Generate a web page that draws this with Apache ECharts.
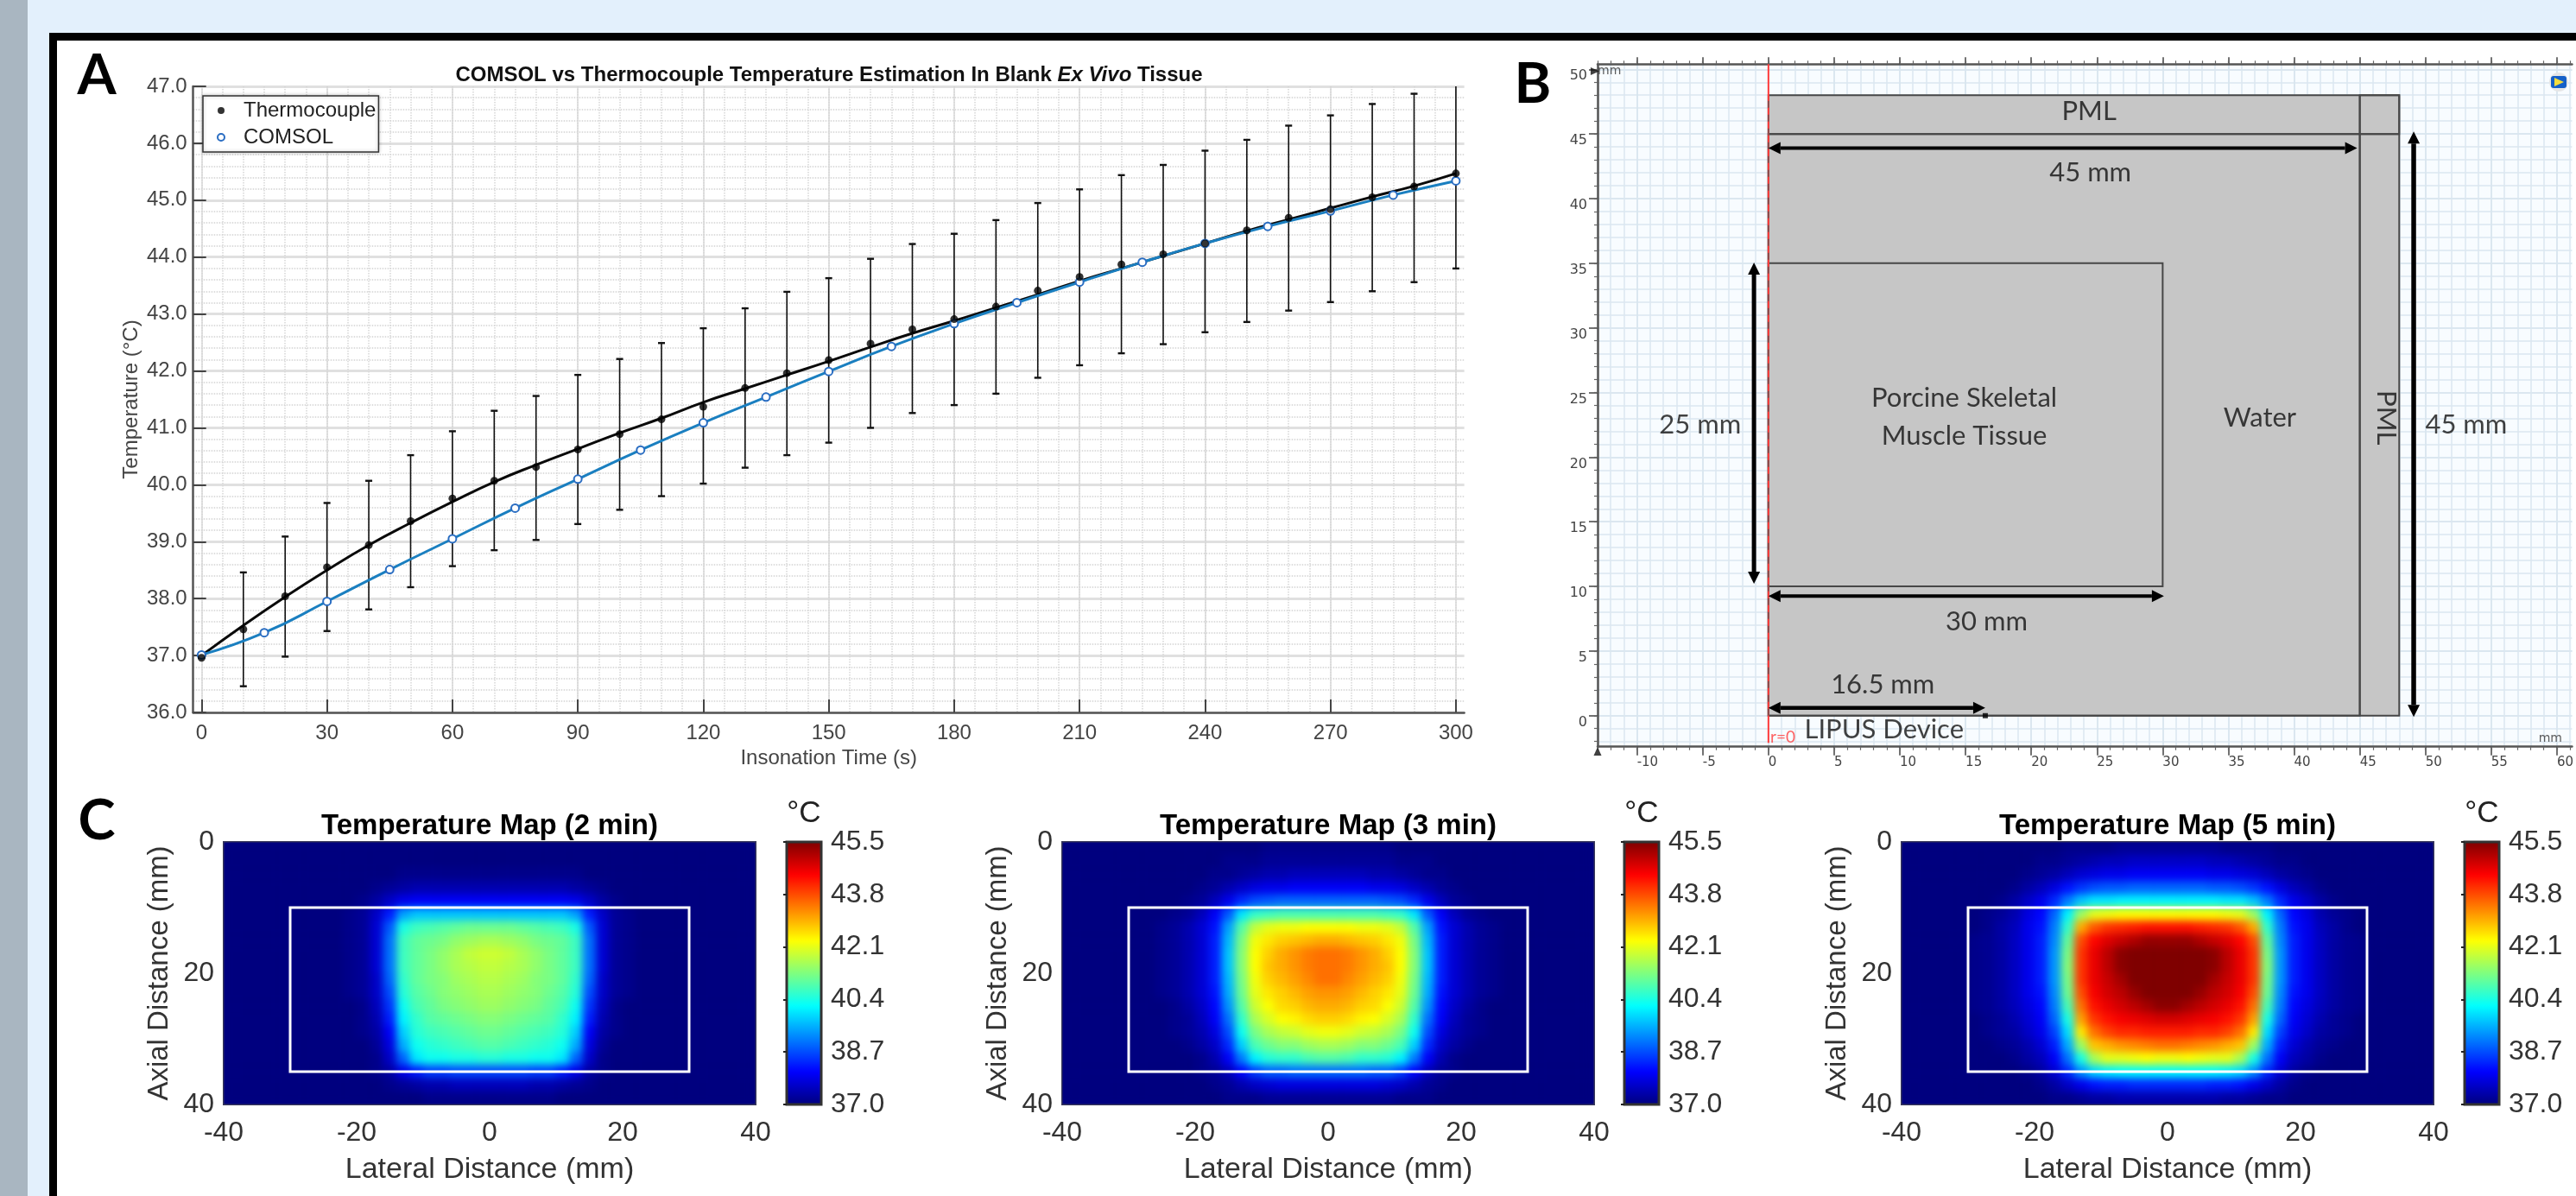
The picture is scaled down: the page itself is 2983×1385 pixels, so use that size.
<!DOCTYPE html>
<html>
<head>
<meta charset="utf-8">
<title>COMSOL vs Thermocouple</title>
<script src="https://cdn.jsdelivr.net/npm/echarts@6/dist/echarts.min.js"></script>
<style>
html,body{margin:0;padding:0;width:2983px;height:1385px;overflow:hidden;background:#e3f0fc;}
#band{position:absolute;left:0;top:0;width:32px;height:1385px;background:#a9b6c1;}
#frame{position:absolute;left:57px;top:38px;width:2926px;height:1347px;background:#000;}
#paper{position:absolute;left:66px;top:47px;width:2917px;height:1338px;background:#fff;}
#chart{position:absolute;left:0;top:0;width:2983px;height:1385px;}
canvas[data-zr-dom-id="zr_1"]{
  filter:blur(5px);
  clip-path:path('M259 975H875V1279H259Z M1230 975H1846V1279H1230Z M2202 975H2818V1279H2202Z');
}
</style>
</head>
<body>
<div id="band"></div><div id="frame"></div><div id="paper"></div>
<div id="chart"></div>
<script>
/* ---------- Panel A ---------- */
const thermoTime = [0,10,20,30,40,50,60,70,80,90,100,110,120,130,140,150,160,170,180,190,200,210,220,230,240,250,260,270,280,290,300];
const thermoMean = [36.96,37.46,38.04,38.55,38.94,39.36,39.76,40.07,40.31,40.62,40.89,41.15,41.37,41.70,41.96,42.19,42.48,42.73,42.91,43.13,43.41,43.65,43.87,44.05,44.24,44.47,44.69,44.84,45.05,45.24,45.47];
const thermoUpper = [36.96,38.46,39.09,39.68,40.07,40.52,40.94,41.30,41.56,41.93,42.21,42.49,42.75,43.10,43.39,43.63,43.97,44.23,44.41,44.65,44.95,45.19,45.44,45.62,45.87,46.06,46.31,46.49,46.69,46.87,47.14];
const thermoLower = [36.96,36.46,36.98,37.43,37.81,38.20,38.57,38.85,39.03,39.31,39.56,39.80,40.02,40.30,40.52,40.74,41.00,41.26,41.40,41.60,41.88,42.10,42.31,42.47,42.68,42.86,43.06,43.21,43.40,43.56,43.80];
const thermoFit = [37.0,37.53,38.03,38.50,38.94,39.33,39.70,40.05,40.35,40.63,40.91,41.17,41.45,41.69,41.93,42.17,42.42,42.66,42.88,43.11,43.34,43.58,43.80,44.02,44.24,44.46,44.66,44.86,45.06,45.25,45.47];
const comsolTime = [0,15,30,45,60,75,90,105,120,135,150,165,180,195,210,225,240,255,270,285,300];
const comsolTemp = [37.01,37.40,37.95,38.51,39.05,39.59,40.10,40.61,41.09,41.54,41.99,42.43,42.83,43.20,43.56,43.91,44.24,44.54,44.81,45.09,45.34];
const timeTicks = [0,30,60,90,120,150,180,210,240,270,300];

/* ---------- Panel B (mm) ---------- */
const bxTicks = [-10,-5,0,5,10,15,20,25,30,35,40,45,50,55,60];
const byTicks = [0,5,10,15,20,25,30,35,40,45,50];
const domainRects = [[0,0,48,48],[0,0,45,45],[0,10,30,35],[45,45,48,48]];
const domainLines = [[45,0,45,48],[0,45,48,45]];
const arrows = [[0,43.9,44.8,43.9,4],[-1.1,35.05,-1.1,10.2,5],[0,9.25,30.1,9.25,4],[0,0.6,16.5,0.6,4.5],[49.1,45.2,49.1,-0.1,5.5]];
const axisOfSymmetry = [[0,-2.1],[0,50.4]];
const axisDashes = [[0,0],[0,48]];
const deviceEnd = [[16.5,0]];
const annText = ['PML','45 mm','Porcine Skeletal','Muscle Tissue','Water','PML','45 mm','25 mm','30 mm','16.5 mm','LIPUS Device'];
const annX = [24.4,24.5,14.9,14.9,37.4,47.0,53.1,-5.2,16.6,8.7,8.8];
const annY = [46.75,42.0,24.55,21.65,23.05,23.05,22.5,22.5,7.27,2.4,-1.1];

/* ---------- Panel C: half-width rows, |lateral| = 1,3,5,... mm; rows axial = 1,3,...,39 mm; omitted cells are the 37.0 baseline ---------- */
const axialCentres = [1,3,5,7,9,11,13,15,17,19,21,23,25,27,29,31,33,35,37,39];
const map2min = [
[37.0],
[37.0],
[37.1,37.1,37.1,37.1,37.1,37.1,37.1],
[37.4,37.4,37.4,37.4,37.4,37.4,37.3,37.2,37.1],
[38.0,38.0,38.0,38.0,38.0,38.0,37.9,37.6,37.3,37.1],
[39.7,39.7,39.7,39.7,39.7,39.7,39.4,38.3,37.6,37.2,37.1],
[41.1,41.1,41.0,40.9,40.8,40.7,40.4,38.8,37.7,37.2,37.1],
[41.6,41.5,41.4,41.2,41.1,41.0,40.7,39.0,37.7,37.2,37.1],
[41.9,41.8,41.6,41.4,41.2,41.0,40.7,39.0,37.7,37.2,37.1],
[41.8,41.7,41.6,41.4,41.2,41.0,40.7,39.0,37.7,37.2,37.1],
[41.7,41.6,41.5,41.3,41.2,41.0,40.6,38.9,37.6,37.2,37.1],
[41.6,41.5,41.4,41.3,41.1,40.9,40.5,38.7,37.6,37.2,37.1],
[41.5,41.4,41.3,41.2,41.0,40.8,40.3,38.5,37.5,37.1],
[41.3,41.2,41.1,41.0,40.9,40.6,40.1,38.3,37.4,37.1],
[41.1,41.0,40.9,40.8,40.7,40.5,39.8,38.0,37.3,37.1],
[40.9,40.8,40.7,40.6,40.5,40.3,39.5,37.8,37.2],
[40.5,40.4,40.4,40.3,40.3,40.0,38.9,37.6,37.1],
[38.7,38.7,38.7,38.6,38.6,38.3,37.9,37.3,37.1],
[37.5,37.5,37.5,37.4,37.4,37.3,37.2,37.1],
[37.1,37.1,37.1,37.1,37.1]
];
const map3min = [
[37.1,37.1,37.1,37.1,37.1],
[37.2,37.2,37.2,37.2,37.2,37.1,37.1,37.1],
[37.5,37.5,37.5,37.4,37.4,37.3,37.2,37.1,37.1],
[38.0,38.0,38.0,37.9,37.9,37.8,37.6,37.4,37.2,37.1],
[38.9,38.9,38.9,38.9,38.8,38.7,38.4,37.9,37.5,37.2,37.1],
[40.8,40.8,40.8,40.8,40.7,40.6,40.0,38.8,38.0,37.5,37.2,37.1],
[42.3,42.3,42.2,42.2,42.1,41.8,40.9,39.4,38.2,37.7,37.4,37.2,37.1],
[43.0,42.9,42.8,42.7,42.5,42.2,41.2,39.6,38.3,37.7,37.4,37.2,37.1],
[43.5,43.4,43.2,43.0,42.7,42.3,41.3,39.7,38.3,37.7,37.4,37.2,37.1],
[43.5,43.4,43.2,43.0,42.8,42.3,41.3,39.7,38.3,37.7,37.4,37.2,37.1],
[43.5,43.3,43.1,42.9,42.7,42.2,41.2,39.6,38.3,37.7,37.4,37.2,37.1],
[43.2,43.1,42.9,42.7,42.5,42.1,41.1,39.5,38.2,37.7,37.4,37.2,37.1],
[43.0,42.9,42.7,42.6,42.3,41.9,40.9,39.3,38.1,37.6,37.3,37.1],
[42.7,42.6,42.4,42.3,42.0,41.6,40.6,39.0,38.0,37.5,37.2,37.1],
[42.2,42.1,41.9,41.8,41.6,41.2,40.3,38.7,37.8,37.4,37.2,37.1],
[41.6,41.5,41.3,41.3,41.1,40.8,39.8,38.4,37.6,37.3,37.1],
[40.9,40.8,40.6,40.6,40.5,40.1,39.1,38.0,37.4,37.1],
[39.0,39.0,39.0,38.9,38.9,38.6,38.1,37.5,37.2,37.1],
[37.8,37.8,37.8,37.8,37.7,37.6,37.4,37.2,37.1],
[37.2,37.2,37.2,37.2,37.2,37.1,37.1,37.1]
];
const map5min = [
[37.2,37.2,37.2,37.2,37.1,37.1,37.1,37.1],
[37.6,37.6,37.6,37.5,37.5,37.4,37.3,37.2,37.1,37.1],
[38.0,38.0,38.0,37.9,37.9,37.8,37.7,37.5,37.3,37.2,37.1],
[38.9,38.9,38.9,38.8,38.8,38.7,38.5,38.2,37.8,37.5,37.3,37.1],
[40.1,40.1,40.1,40.1,40.0,40.0,39.7,39.1,38.4,37.9,37.6,37.3,37.1],
[42.3,42.3,42.3,42.3,42.2,42.1,41.5,40.1,38.9,38.1,37.8,37.4,37.2,37.1],
[44.3,44.3,44.2,44.1,44.0,43.7,43.0,40.6,39.1,38.2,37.9,37.5,37.3,37.1],
[45.3,45.3,45.1,44.9,44.7,44.4,43.8,41.0,39.2,38.3,37.9,37.55,37.3,37.15,37.1],
[45.5,45.5,45.5,45.4,45.0,44.6,44.0,41.2,39.3,38.3,37.9,37.55,37.3,37.15,37.1],
[45.5,45.5,45.5,45.4,45.0,44.6,44.0,41.3,39.3,38.3,37.9,37.55,37.3,37.15,37.1],
[45.5,45.5,45.5,45.2,44.9,44.6,44.0,41.2,39.3,38.3,37.9,37.55,37.3,37.15,37.1],
[45.5,45.5,45.3,45.0,44.8,44.5,43.8,41.1,39.2,38.2,37.9,37.55,37.3,37.15,37.1],
[45.4,45.2,45.0,44.8,44.6,44.3,43.5,40.8,39.1,38.1,37.8,37.5,37.3,37.15,37.1],
[44.8,44.7,44.6,44.5,44.3,44.0,43.1,40.4,38.9,38.0,37.7,37.4,37.2,37.1],
[44.2,44.2,44.1,44.1,43.9,43.5,42.5,39.9,38.6,37.9,37.6,37.3,37.2,37.1],
[43.5,43.4,43.3,43.2,43.0,42.8,41.5,39.5,38.3,37.7,37.4,37.2,37.1],
[42.2,42.3,42.2,42.1,42.1,41.6,40.4,39.0,38.0,37.5,37.3,37.1],
[40.2,40.2,40.2,40.2,40.1,39.9,39.3,38.4,37.7,37.3,37.1],
[38.4,38.4,38.4,38.3,38.3,38.2,37.9,37.6,37.3,37.1],
[37.4,37.4,37.4,37.4,37.3,37.3,37.2,37.1,37.1]
];
const mapTitles = ['Temperature Map (2 min)','Temperature Map (3 min)','Temperature Map (5 min)'];
const colourbarTicks = [37.0,38.7,40.4,42.1,43.8,45.5];
const lateralTicks = [-40,-20,0,20,40];
const tissueOutline = [[-30,10,30,35]];
const jet = ['#00007f','#0000ff','#007fff','#00ffff','#7fff7f','#ffff00','#ff7f00','#ff0000','#7f0000'];

const SANS = '"Liberation Sans", Arial, sans-serif';
const LATO = 'Lato, "Open Sans", sans-serif';
const DJV = '"DejaVu Sans", sans-serif';

const xAxes = [], yAxes = [], grids = [], series = [], titles = [], visualMaps = [];
const addX = o => xAxes.push(o) - 1, addY = o => yAxes.push(o) - 1, addG = o => grids.push(o) - 1;

/* ===== Panel A axes ===== */
const gA = addG({left:223.7, top:100, width:1471.9, height:725, show:false});
const every5 = []; for (let t = 0; t <= 300; t += 5) every5.push(t);
const xA = addX({gridIndex:gA, type:'value', min:-2, max:302, position:'bottom',
  axisLine:{onZero:false, lineStyle:{color:'#555', width:2.5}},
  axisTick:{show:true, inside:true, length:15, customValues:timeTicks, lineStyle:{color:'#444', width:2}},
  axisLabel:{customValues:timeTicks, color:'#444', fontFamily:SANS, fontSize:24, margin:12},
  splitLine:{show:true, lineStyle:{color:'#dadada', width:1.5}},
  name:'Insonation Time (s)', nameLocation:'middle', nameGap:41,
  nameTextStyle:{color:'#444', fontFamily:SANS, fontSize:24}});
addX({gridIndex:gA, type:'value', min:-2, max:302, position:'bottom',
  axisLine:{show:false, onZero:false}, axisTick:{show:false, customValues:every5}, axisLabel:{show:false},
  splitLine:{show:true, lineStyle:{color:'#d6d6d6', width:1.5, type:'dotted'}}});
const yA = addY({gridIndex:gA, type:'value', min:36, max:47, interval:1,
  axisLine:{show:true, onZero:false, lineStyle:{color:'#555', width:2.5}},
  axisTick:{show:true, inside:true, length:15, lineStyle:{color:'#444', width:2}},
  axisLabel:{color:'#444', fontFamily:SANS, fontSize:24, margin:7, formatter:v=>v.toFixed(1)},
  splitLine:{show:true, lineStyle:{color:'#e0e0e0', width:3}},
  minorTick:{show:false, splitNumber:5},
  minorSplitLine:{show:true, lineStyle:{color:'#d2d2d2', width:1.5, type:'dotted'}},
  name:'Temperature (°C)', nameLocation:'middle', nameGap:59,
  nameTextStyle:{color:'#444', fontFamily:SANS, fontSize:24}});

series.push({type:'custom', name:'Thermocouple SD', xAxisIndex:xA, yAxisIndex:yA, clip:true, silent:true, z:3,
  data:thermoTime.map((t,i)=>[t,thermoLower[i],thermoUpper[i]]),
  encode:{x:0,y:[1,2]},
  renderItem(p,api){
    const lo=api.coord([api.value(0),api.value(1)]), hi=api.coord([api.value(0),api.value(2)]);
    const s={stroke:'#111',lineWidth:1.6}, c={stroke:'#111',lineWidth:2.4};
    return {type:'group',children:[
      {type:'line',shape:{x1:lo[0],y1:lo[1],x2:hi[0],y2:hi[1]},style:s},
      {type:'line',shape:{x1:lo[0]-4,y1:lo[1],x2:lo[0]+4,y2:lo[1]},style:c},
      {type:'line',shape:{x1:hi[0]-4,y1:hi[1],x2:hi[0]+4,y2:hi[1]},style:c}
    ]};
  }});
series.push({type:'line', name:'Thermocouple fit', xAxisIndex:xA, yAxisIndex:yA, smooth:true, symbol:'none', z:4,
  lineStyle:{color:'#0a0a0a', width:3}, data:thermoTime.map((t,i)=>[t,thermoFit[i]])});
series.push({type:'line', name:'COMSOL', xAxisIndex:xA, yAxisIndex:yA, smooth:true, z:5,
  symbol:'emptyCircle', symbolSize:9, showAllSymbol:true,
  lineStyle:{color:'#1a7fc0', width:3}, itemStyle:{color:'#2a6dc2', borderColor:'#2a6dc2', borderWidth:2},
  data:comsolTime.map((t,i)=>[t,comsolTemp[i]])});
series.push({type:'scatter', name:'Thermocouple', xAxisIndex:xA, yAxisIndex:yA, z:6, symbolSize:9,
  itemStyle:{color:'#000'}, data:thermoTime.map((t,i)=>[t,thermoMean[i]])});

/* ===== Panel B axes ===== */
const BX0=-13, BX1=61.15, BY0=-2.4, BY1=50.4;
const gB = addG({left:1850, top:74.3, width:1133, height:790.4, show:true, backgroundColor:'#f8fcff', borderWidth:0});
const mmX=[]; for(let v=-13;v<=61;v++) mmX.push(v);
const mmY=[]; for(let v=-2;v<=50;v++) mmY.push(v);
const bAxisLine={onZero:false, lineStyle:{color:'#555',width:2.5}};
const xB = addX({gridIndex:gB,type:'value',min:BX0,max:BX1,position:'bottom',axisLine:bAxisLine,
  axisTick:{show:true,length:10,customValues:bxTicks,lineStyle:{color:'#444',width:1.5}},
  axisLabel:{customValues:bxTicks,align:'left',color:'#444',fontFamily:DJV,fontSize:15,margin:11},
  splitLine:{show:true,lineStyle:{color:'#cfdfe9',width:1.5}}});
addX({gridIndex:gB,type:'value',min:BX0,max:BX1,position:'bottom',axisLine:{show:false,onZero:false},
  axisTick:{show:true,length:4,customValues:mmX,lineStyle:{color:'#666',width:1.2}},axisLabel:{show:false},
  splitLine:{show:true,lineStyle:{color:'#dbe7f0',width:1.5}}});
addX({gridIndex:gB,type:'value',min:BX0,max:BX1,position:'top',axisLine:bAxisLine,
  axisTick:{show:true,length:8,customValues:bxTicks,lineStyle:{color:'#444',width:1.5}},axisLabel:{show:false},splitLine:{show:false}});
addX({gridIndex:gB,type:'value',min:BX0,max:BX1,position:'top',axisLine:{show:false,onZero:false},
  axisTick:{show:true,length:4,customValues:mmX,lineStyle:{color:'#666',width:1.2}},axisLabel:{show:false},splitLine:{show:false}});
const yB = addY({gridIndex:gB,type:'value',min:BY0,max:BY1,position:'left',axisLine:bAxisLine,
  axisTick:{show:true,length:10,customValues:byTicks,lineStyle:{color:'#444',width:1.5}},
  axisLabel:{customValues:byTicks,verticalAlign:'top',color:'#444',fontFamily:DJV,fontSize:16,margin:12},
  splitLine:{show:true,lineStyle:{color:'#cfdfe9',width:1.5}}});
addY({gridIndex:gB,type:'value',min:BY0,max:BY1,position:'left',axisLine:{show:false,onZero:false},
  axisTick:{show:true,length:4,customValues:mmY,lineStyle:{color:'#666',width:1.2}},axisLabel:{show:false},
  splitLine:{show:true,lineStyle:{color:'#dbe7f0',width:1.5}}});

series.push({type:'custom',name:'Domain',xAxisIndex:xB,yAxisIndex:yB,silent:true,z:3,
  data:domainRects,encode:{x:[0,2],y:[1,3]},
  renderItem(p,api){
    const a=api.coord([api.value(0),api.value(1)]), b=api.coord([api.value(2),api.value(3)]);
    return {type:'rect',shape:{x:a[0],y:b[1],width:b[0]-a[0],height:a[1]-b[1]},
      style:{fill:p.dataIndex===0?'#c6c6c6':'none',stroke:'#474747',lineWidth:2}};
  }});
series.push({type:'custom',name:'Domain lines',xAxisIndex:xB,yAxisIndex:yB,silent:true,z:3,
  data:domainLines,encode:{x:[0,2],y:[1,3]},
  renderItem(p,api){
    const a=api.coord([api.value(0),api.value(1)]), b=api.coord([api.value(2),api.value(3)]);
    return {type:'line',shape:{x1:a[0],y1:a[1],x2:b[0],y2:b[1]},style:{stroke:'#474747',lineWidth:2}};
  }});
series.push({type:'line',name:'r=0',xAxisIndex:xB,yAxisIndex:yB,symbol:'none',silent:true,z:4,
  lineStyle:{color:'#ff3b3b',width:2},data:axisOfSymmetry});
series.push({type:'line',name:'r=0 boundary',xAxisIndex:xB,yAxisIndex:yB,symbol:'none',silent:true,z:4,
  lineStyle:{color:'#555',width:1.2,type:[8,8]},data:axisDashes});
series.push({type:'custom',name:'Dimensions',xAxisIndex:xB,yAxisIndex:yB,silent:true,z:5,
  data:arrows,encode:{x:[0,2],y:[1,3]},
  renderItem(p,api){
    const a=api.coord([api.value(0),api.value(1)]), b=api.coord([api.value(2),api.value(3)]);
    const w=api.value(4), L=14, H=7;
    const dx=b[0]-a[0], dy=b[1]-a[1], n=Math.hypot(dx,dy), ux=dx/n, uy=dy/n, px=-uy, py=ux;
    const head=(t,s)=>({type:'polygon',shape:{points:[t,[t[0]+s*L*ux+H*px,t[1]+s*L*uy+H*py],[t[0]+s*L*ux-H*px,t[1]+s*L*uy-H*py]]},style:{fill:'#000'}});
    return {type:'group',children:[
      {type:'line',shape:{x1:a[0]+ux*L,y1:a[1]+uy*L,x2:b[0]-ux*L,y2:b[1]-uy*L},style:{stroke:'#000',lineWidth:w}},
      head(a,1),head(b,-1)
    ]};
  }});
series.push({type:'scatter',name:'Device edge',xAxisIndex:xB,yAxisIndex:yB,symbol:'rect',symbolSize:6,silent:true,z:6,
  itemStyle:{color:'#000'},data:deviceEnd});
series.push({type:'scatter',name:'Annotations',xAxisIndex:xB,yAxisIndex:yB,symbolSize:0,silent:true,z:7,
  data:annText.map((t,i)=>({name:t,value:[annX[i],annY[i]],label:{rotate:(t==='PML'&&annX[i]>40)?-90:0}})),
  label:{show:true,position:'inside',formatter:'{b}',color:'#111',fontFamily:LATO,fontSize:31}});
series.push({type:'scatter',name:'r label',xAxisIndex:xB,yAxisIndex:yB,symbolSize:0,silent:true,z:7,
  data:[{name:'r=0',value:[1.1,-1.7]}],
  label:{show:true,position:'inside',formatter:'{b}',color:'#ff3b3b',fontFamily:LATO,fontSize:19}});
series.push({type:'scatter',name:'Unit labels',xAxisIndex:xB,yAxisIndex:yB,symbolSize:0,silent:true,z:7,
  data:[{name:'mm',value:[-12.1,49.85]},{name:'mm',value:[59.5,-1.75]}],
  label:{show:true,position:'inside',formatter:'{b}',color:'#333',fontFamily:DJV,fontSize:14}});
series.push({type:'scatter',name:'Axis arrows',xAxisIndex:xB,yAxisIndex:yB,symbol:'triangle',symbolSize:[9,10],silent:true,z:7,clip:false,
  itemStyle:{color:'#111'},data:[{value:[-13.2,49.85],symbolRotate:-90},{value:[-13,-2.75],symbolRotate:0}]});

/* ===== Panel C ===== */
const mapSets=[map2min,map3min,map5min];
const plotLeft=[259,1230,2202];
const barLeft=[911,1881,2854];
mapSets.forEach((rows,m)=>{
  const L=plotLeft[m], cx=L+308;
  const g=addG({left:L,top:975,width:616,height:304,show:true,backgroundColor:'#00007f',borderColor:'#38385a',borderWidth:2});
  const lateralCats=[]; for(let i=0;i<40;i++) lateralCats.push(2*i-39);
  const xc=addX({gridIndex:g,type:'category',data:lateralCats,show:false,boundaryGap:true});
  const yc=addY({gridIndex:g,type:'category',data:axialCentres,inverse:true,show:false,boundaryGap:true});
  const xv=addX({gridIndex:g,type:'value',min:-40,max:40,interval:20,position:'bottom',
    axisLine:{show:false},axisTick:{show:false},splitLine:{show:false},
    axisLabel:{customValues:lateralTicks,color:'#333',fontFamily:SANS,fontSize:32,margin:17},
    name:'Lateral Distance (mm)',nameLocation:'middle',nameGap:59,
    nameTextStyle:{color:'#333',fontFamily:SANS,fontSize:34}});
  const yv=addY({gridIndex:g,type:'value',min:0,max:40,interval:20,inverse:true,position:'left',
    axisLine:{show:false},axisTick:{show:false},splitLine:{show:false},
    axisLabel:{color:'#333',fontFamily:SANS,fontSize:32,margin:11},
    name:'Axial Distance (mm)',nameLocation:'middle',nameGap:58,
    nameTextStyle:{color:'#333',fontFamily:SANS,fontSize:33}});
  const cells=[];
  rows.forEach((row,r)=>{
    for(let c=0;c<40;c++){
      const off=c<20?19-c:c-20;
      cells.push([c,r,row[off]===undefined?37.0:row[off]]);
    }
  });
  const sIdx=series.push({type:'heatmap',name:mapTitles[m],xAxisIndex:xc,yAxisIndex:yc,zlevel:1,silent:true,
    progressive:0,data:cells,itemStyle:{borderWidth:0}})-1;
  series.push({type:'custom',name:'Tissue outline '+(m+1),xAxisIndex:xv,yAxisIndex:yv,zlevel:2,silent:true,
    data:tissueOutline,encode:{x:[0,2],y:[1,3]},
    renderItem(p,api){
      const a=api.coord([api.value(0),api.value(1)]), b=api.coord([api.value(2),api.value(3)]);
      return {type:'rect',shape:{x:a[0],y:a[1],width:b[0]-a[0],height:b[1]-a[1]},style:{fill:'none',stroke:'#fff',lineWidth:3}};
    }});
  visualMaps.push({type:'continuous',seriesIndex:sIdx,min:37,max:45.5,calculable:false,hoverLink:false,
    left:barLeft[m],top:975,itemWidth:40,itemHeight:304,padding:0,text:null,showLabel:false,
    inRange:{color:jet}});
  const gb=addG({left:barLeft[m],top:975,width:40,height:304,show:true,backgroundColor:'transparent',borderColor:'#333',borderWidth:3,z:10});
  addX({gridIndex:gb,type:'value',min:0,max:1,show:false});
  addY({gridIndex:gb,type:'value',min:37,max:45.5,position:'right',z:11,
    axisLine:{show:false},splitLine:{show:false},
    axisTick:{show:true,inside:true,length:4,customValues:colourbarTicks,lineStyle:{color:'#222',width:2}},
    axisLabel:{customValues:colourbarTicks,color:'#333',fontFamily:SANS,fontSize:32,margin:11,formatter:v=>Number(v).toFixed(1)}});
  titles.push({text:mapTitles[m],left:cx,top:940,textAlign:'center',padding:0,
    textStyle:{fontFamily:SANS,fontWeight:'bold',fontSize:33,color:'#000'}});
  titles.push({text:'°C',left:barLeft[m]+20,top:925,textAlign:'center',padding:0,
    textStyle:{fontFamily:SANS,fontWeight:'normal',fontSize:35,color:'#222'}});
});

/* Titles and panel letters */
titles.push({text:'COMSOL vs Thermocouple Temperature Estimation In Blank {i|Ex Vivo} Tissue',left:960,top:75,textAlign:'center',padding:0,
  textStyle:{fontFamily:SANS,fontWeight:'bold',fontSize:24,color:'#111',rich:{i:{fontFamily:SANS,fontWeight:'bold',fontStyle:'italic',fontSize:24,color:'#111'}}}});
[['A',112,56],['B',1775,66],['C',112,919]].forEach(a=>{
  titles.push({text:a[0],left:a[1],top:a[2],textAlign:'center',padding:0,
    textStyle:{fontFamily:LATO,fontWeight:'bold',fontSize:65,color:'#000'}});
});

const chart=echarts.init(document.getElementById('chart'),null,{renderer:'canvas',width:2983,height:1385});
chart.setOption({
  animation:false,
  backgroundColor:'transparent',
  title:titles,
  tooltip:{show:false},
  grid:grids, xAxis:xAxes, yAxis:yAxes, visualMap:visualMaps, series:series,
  legend:{show:true,orient:'vertical',left:235,top:111,padding:[5,3,5,16],itemWidth:42,itemHeight:8,itemGap:7,
    backgroundColor:'#fff',borderColor:'#333',borderWidth:1.5,z:20,
    shadowBlur:4,shadowColor:'rgba(0,0,0,0.25)',
    textStyle:{fontFamily:SANS,fontSize:24,color:'#222'},
    data:[{name:'Thermocouple',icon:'circle',itemStyle:{color:'#000'}},
          {name:'COMSOL',icon:'circle',itemStyle:{color:'#fff',borderColor:'#2a6dc2',borderWidth:2}}]},
  graphic:[
    {type:'circle',shape:{cx:2963,cy:95,r:11},style:{fill:'#e6e6e6'},z:30},
    {type:'rect',shape:{x:2954,y:88,width:18,height:14,r:3},style:{fill:'#1560c8'},z:31},
    {type:'polygon',shape:{points:[[2958,90],[2969,95],[2958,100]]},style:{fill:'#f4dc3c'},z:32}
  ]
});
</script>
</body>
</html>
